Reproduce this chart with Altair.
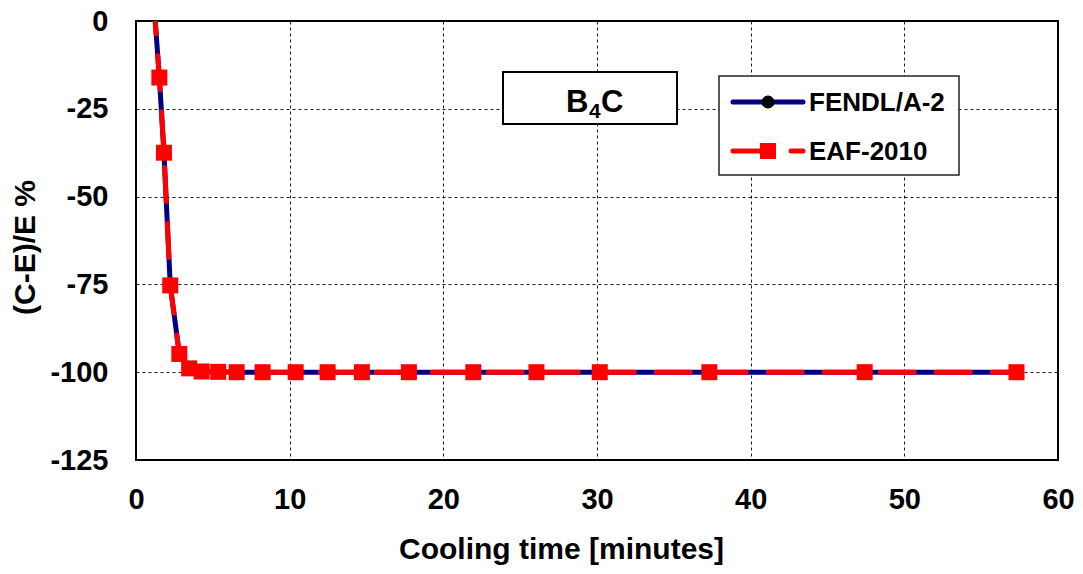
import altair as alt
import pandas as pd

# ---- data ----
times = [1.15, 1.52, 1.82, 2.23, 2.82, 3.46, 4.27, 5.35, 6.55, 8.24,
         10.39, 12.47, 14.70, 17.76, 21.95, 26.06, 30.18, 37.31, 47.42, 57.3]
fendl = [6.0, -16.1, -37.5, -75.3, -94.8, -98.9, -99.8, -99.9, -100.0, -100.0,
         -100.0, -100.0, -100.0, -100.0, -100.0, -100.0, -100.0, -100.0, -100.0, -100.0]
eaf = [6.0, -16.1, -37.5, -75.3, -94.8, -98.9, -99.8, -99.9, -100.0, -100.0,
       -100.0, -100.0, -100.0, -100.0, -100.0, -100.0, -100.0, -100.0, -100.0, -100.0]
x_ticks = [0, 10, 20, 30, 40, 50, 60]
y_ticks = [0, -25, -50, -75, -100, -125]
series_names = ["FENDL/A-2", "EAF-2010"]

FONT = "Liberation Sans"
W, H = 922, 439

df = pd.DataFrame({"t": times, "fendl": fendl, "eaf": eaf})
one = pd.DataFrame({"d": [0]})

xenc = alt.X("t:Q", scale=alt.Scale(domain=[0, 60], nice=False),
             axis=alt.Axis(values=x_ticks, title="Cooling time [minutes]",
                           labelPadding=25, titleX=425, titleY=98,
                           labelFlush=False, labelExpr="datum.value + ''",
                           titleAlign="center", titleBaseline="alphabetic"))


def yenc(field):
    return alt.Y(f"{field}:Q", scale=alt.Scale(domain=[-125, 0], nice=False),
                 axis=alt.Axis(values=y_ticks, title="(C-E)/E %",
                               labelPadding=28, titleX=-111, titleY=226,
                               labelFlush=False, labelExpr="datum.value + ''",
                               titleAngle=270, titleAlign="center",
                               titleBaseline="middle"))


base = alt.Chart(df)
fendl_line = base.mark_line(color="#000080", strokeWidth=5, clip=True).encode(x=xenc, y=yenc("fendl"))
fendl_pts = base.mark_point(shape="circle", filled=True, color="black", size=150,
                            opacity=1, clip=True).encode(x=xenc, y=yenc("fendl"))
eaf_line = base.mark_line(color="#ff0000", strokeWidth=5, strokeDash=[34, 22],
                          strokeCap="round", clip=True).encode(x=xenc, y=yenc("eaf"))
eaf_pts = base.mark_point(shape="square", filled=True, color="#ff0000", size=256,
                          opacity=1, clip=True).encode(x=xenc, y=yenc("eaf"))

ann = alt.Chart(one)
# title box "B4C"
tbox = ann.mark_rect(fill="white", stroke="black", strokeWidth=2).encode(
    x=alt.value(367), x2=alt.value(541), y=alt.value(51), y2=alt.value(103))
tB = ann.mark_text(text="B", font=FONT, fontSize=31, fontWeight="bold", align="left",
                   baseline="alphabetic", color="black").encode(x=alt.value(430), y=alt.value(91))
t4 = ann.mark_text(text="4", font=FONT, fontSize=21, fontWeight="bold", align="left",
                   baseline="alphabetic", color="black").encode(x=alt.value(453), y=alt.value(97))
tC = ann.mark_text(text="C", font=FONT, fontSize=31, fontWeight="bold", align="left",
                   baseline="alphabetic", color="black").encode(x=alt.value(465), y=alt.value(91))

# legend box
lbox = ann.mark_rect(fill="white", stroke="#222222", strokeWidth=1.5).encode(
    x=alt.value(583), x2=alt.value(823), y=alt.value(55), y2=alt.value(154))
l1_line = ann.mark_rule(color="#000080", strokeWidth=5, strokeCap="round").encode(
    x=alt.value(597), x2=alt.value(667), y=alt.value(81))
l1_pt = ann.mark_point(shape="circle", filled=True, color="black", size=170, opacity=1).encode(
    x=alt.value(632), y=alt.value(81))
l1_txt = ann.mark_text(text=series_names[0], font=FONT, fontSize=26, fontWeight="bold",
                       align="left", baseline="middle", color="black").encode(
    x=alt.value(673), y=alt.value(82))
l2_line = ann.mark_rule(color="#ff0000", strokeWidth=5, strokeCap="round").encode(
    x=alt.value(597), x2=alt.value(632), y=alt.value(130))
l2_dash = ann.mark_rule(color="#ff0000", strokeWidth=5, strokeCap="round").encode(
    x=alt.value(655), x2=alt.value(667), y=alt.value(130))
l2_pt = ann.mark_point(shape="square", filled=True, color="#ff0000", size=256, opacity=1).encode(
    x=alt.value(632), y=alt.value(130))
l2_txt = ann.mark_text(text=series_names[1], font=FONT, fontSize=26, fontWeight="bold",
                       align="left", baseline="middle", color="black").encode(
    x=alt.value(673), y=alt.value(131))

chart = alt.layer(
    fendl_line, fendl_pts, eaf_line, eaf_pts,
    tbox, tB, t4, tC,
    lbox, l1_line, l1_pt, l1_txt, l2_line, l2_dash, l2_pt, l2_txt,
).properties(
    width=W, height=H,
    autosize=alt.AutoSizeParams(type="none"),
    padding={"left": 136, "top": 21, "right": 25, "bottom": 114},
    background="white",
).configure_view(
    stroke="black", strokeWidth=2,
).configure_axis(
    labelFont=FONT, labelFontSize=29, labelFontWeight="bold", labelColor="black",
    titleFont=FONT, titleFontSize=30, titleFontWeight="bold", titleColor="black",
    ticks=False, tickSize=0, domain=False,
    grid=True, gridColor="black", gridDash=[3, 3], gridWidth=1, gridOpacity=0.9,
)

chart.save("out.html", embed_options={"renderer": "svg", "actions": False})
